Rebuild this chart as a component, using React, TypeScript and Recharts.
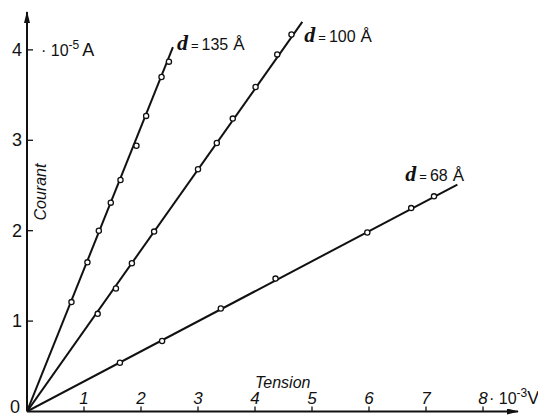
import React from 'react';
import { ScatterChart, Scatter, XAxis, YAxis, Label } from 'recharts';

// points mesurés : tension (10^-3 V) / courant (10^-5 A)
const V_135 = [0.78, 1.06, 1.26, 1.47, 1.64, 1.92, 2.09, 2.36, 2.49];
const I_135 = [1.21, 1.65, 2.0, 2.31, 2.56, 2.94, 3.27, 3.7, 3.87];
const V_100 = [1.24, 1.56, 1.84, 2.23, 3.0, 3.33, 3.61, 4.01, 4.39, 4.64];
const I_100 = [1.08, 1.36, 1.64, 1.99, 2.68, 2.97, 3.24, 3.59, 3.95, 4.17];
const V_68 = [1.63, 2.37, 3.4, 4.36, 5.97, 6.74, 7.14];
const I_68 = [0.54, 0.78, 1.14, 1.47, 1.98, 2.25, 2.38];

// droites tracées depuis l'origine
const END_V = [2.56, 4.83, 7.55];
const END_I = [4.03, 4.31, 2.51];
const THICKNESS = ['135', '100', '68'];

const X_TICKS = [1, 2, 3, 4, 5, 6, 7, 8];
const Y_TICKS = [0, 1, 2, 3, 4];

const INK = '#111';
const SANS = '"Liberation Sans", Arial, sans-serif';

const toPoints = (v: number[], i: number[]) => v.map((x, k) => ({ x, y: i[k] }));
const fitLine = (k: number) => [
  { x: 0, y: 0 },
  { x: END_V[k], y: END_I[k], label: THICKNESS[k] },
];

// where the "d = ... Å" text sits relative to the end of its line
const LABEL_SHIFT: Record<string, [number, number]> = {
  '135': [4, 3],
  '100': [2, 20],
  '68': [-52, -4],
};

const Dot = (p: any) => (
  <circle cx={p.cx} cy={p.cy} r={2.6} fill="#fff" stroke={INK} strokeWidth={1.3} />
);

const LineEnd = (p: any) => {
  const lab = p.payload && p.payload.label;
  if (!lab) return <g />;
  const [dx, dy] = LABEL_SHIFT[lab];
  return (
    <text x={p.cx + dx} y={p.cy + dy} fill={INK} fontFamily={SANS} fontSize={16}>
      <tspan fontFamily='"Liberation Serif", serif' fontStyle="italic" fontWeight="bold" fontSize={22}>d</tspan>
      <tspan dx={3} fontSize={13}>=</tspan>
      <tspan dx={3}>{lab}</tspan>
      <tspan dx={5} fontSize={17}>Å</tspan>
    </text>
  );
};

const XTick = (p: any) => {
  const v = p.payload.value;
  return (
    <g>
      <line x1={p.x} x2={p.x} y1={p.y} y2={p.y - 5} stroke={INK} strokeWidth={1.3} />
      <text x={p.x} y={p.y - 8} textAnchor="middle" fontFamily={SANS} fontStyle="italic" fontSize={17} fill={INK}>
        {v}
      </text>
      {v === 8 && (
        <text x={p.x + 6} y={p.y - 8} fontFamily={SANS} fontSize={16} fill={INK}>
          · 10<tspan dy={-7} fontSize={12}>-3</tspan>
          <tspan dy={7} fontSize={18}>V</tspan>
        </text>
      )}
    </g>
  );
};

const YTick = (p: any) => {
  const v = p.payload.value;
  // the zero sits a little higher and further left, at the corner
  const tx = v === 0 ? p.x - 7 : p.x - 5;
  const ty = v === 0 ? p.y + 1 : p.y + 6;
  return (
    <g>
      {v > 0 && <line x1={p.x} x2={p.x + 6} y1={p.y} y2={p.y} stroke={INK} strokeWidth={1.3} />}
      <text x={tx} y={ty} textAnchor="end" fontFamily={SANS} fontSize={18} fill={INK}>
        {v}
      </text>
      {v === 4 && (
        <text x={p.x + 14} y={p.y + 6} fontFamily={SANS} fontSize={16} fill={INK}>
          · 10<tspan dy={-7} fontSize={12}>-5</tspan>
          <tspan dx={3} dy={7} fontSize={18}>A</tspan>
        </text>
      )}
    </g>
  );
};

const axisLine = (marker: 'start' | 'end') => ({
  stroke: INK,
  strokeWidth: 2,
  [marker === 'start' ? 'markerStart' : 'markerEnd']: 'url(#axisArrow)',
});

export default function App() {
  const lines = [0, 1, 2].map(fitLine);
  return (
    <div style={{ position: 'absolute', left: 0, top: 0, width: 538, height: 418, background: '#fff' }}>
      <svg width={0} height={0} style={{ position: 'absolute' }}>
        <defs>
          <marker
            id="axisArrow"
            viewBox="0 0 12 6"
            refX={11}
            refY={3}
            markerWidth={12}
            markerHeight={6}
            markerUnits="userSpaceOnUse"
            orient="auto-start-reverse"
          >
            <path d="M0,0 L12,3 L0,6 Z" fill={INK} />
          </marker>
        </defs>
      </svg>
      <ScatterChart width={538} height={418} margin={{ top: 12, right: 20, bottom: 0, left: 0 }}>
        <XAxis
          type="number"
          dataKey="x"
          domain={[0, 8.614]}
          allowDataOverflow
          ticks={X_TICKS}
          interval={0}
          height={6.5}
          tickSize={0}
          tickMargin={0}
          tickLine={false}
          axisLine={axisLine('end')}
          tick={<XTick />}
        >
          <Label
            content={(p: any) => (
              <text
                x={p.viewBox.x + 228}
                y={p.viewBox.y - 23.5}
                fontFamily={SANS}
                fontStyle="italic"
                fontSize={16}
                fill={INK}
              >
                Tension
              </text>
            )}
          />
        </XAxis>
        <YAxis
          type="number"
          dataKey="y"
          domain={[0, 4.419]}
          allowDataOverflow
          ticks={Y_TICKS}
          interval={0}
          width={27}
          tickSize={0}
          tickMargin={0}
          tickLine={false}
          axisLine={axisLine('start')}
          tick={<YTick />}
        >
          <Label
            content={(p: any) => {
              const x = p.viewBox.x + p.viewBox.width + 19;
              const y = p.viewBox.y + 180;
              return (
                <text
                  x={x}
                  y={y}
                  transform={`rotate(-90, ${x}, ${y})`}
                  textAnchor="middle"
                  fontFamily={SANS}
                  fontStyle="italic"
                  fontSize={16}
                  fill={INK}
                >
                  Courant
                </text>
              );
            }}
          />
        </YAxis>
        {lines.map((d, k) => (
          <Scatter
            key={'l' + k}
            data={d}
            line={{ stroke: INK, strokeWidth: 2 }}
            shape={<LineEnd />}
            isAnimationActive={false}
          />
        ))}
        <Scatter data={toPoints(V_135, I_135)} shape={<Dot />} isAnimationActive={false} />
        <Scatter data={toPoints(V_100, I_100)} shape={<Dot />} isAnimationActive={false} />
        <Scatter data={toPoints(V_68, I_68)} shape={<Dot />} isAnimationActive={false} />
      </ScatterChart>
    </div>
  );
}
